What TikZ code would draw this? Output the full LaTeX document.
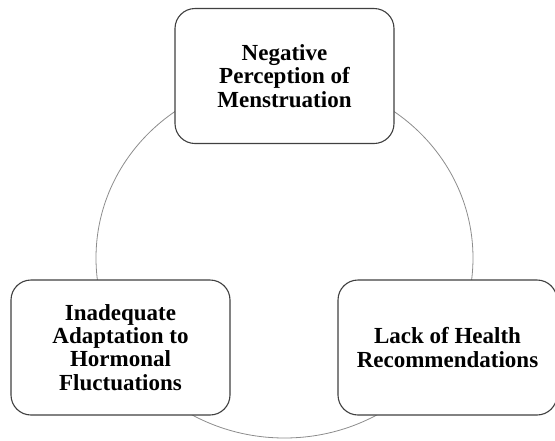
\documentclass[tikz,border=0pt]{standalone}
\usepackage{fontspec}
\setmainfont{Liberation Serif}
\begin{document}
\begin{tikzpicture}[x=1pt,y=-1pt,
  box/.style={draw=black!75, line width=1.1pt, fill=white, rounded corners=20pt,
    minimum width=219pt, minimum height=135pt, align=center,
    font=\bfseries\fontsize{23}{23.3}\selectfont, inner sep=0pt},
  ring/.style={draw=black!45, line width=0.8pt}]
\useasboundingbox (0,0) rectangle (555,440);
\draw[ring] (284.5,258) ellipse [x radius=188.5, y radius=180];
\node[box] (neg) at (284.5,76) {Negative\\Perception of\\Menstruation};
\node[box] (ina) at (120.5,347.5) {Inadequate\\Adaptation to\\Hormonal\\Fluctuations};
\node[box] (lack) at (447.5,347.5) {Lack of Health\\Recommendations};
\end{tikzpicture}
\end{document}
